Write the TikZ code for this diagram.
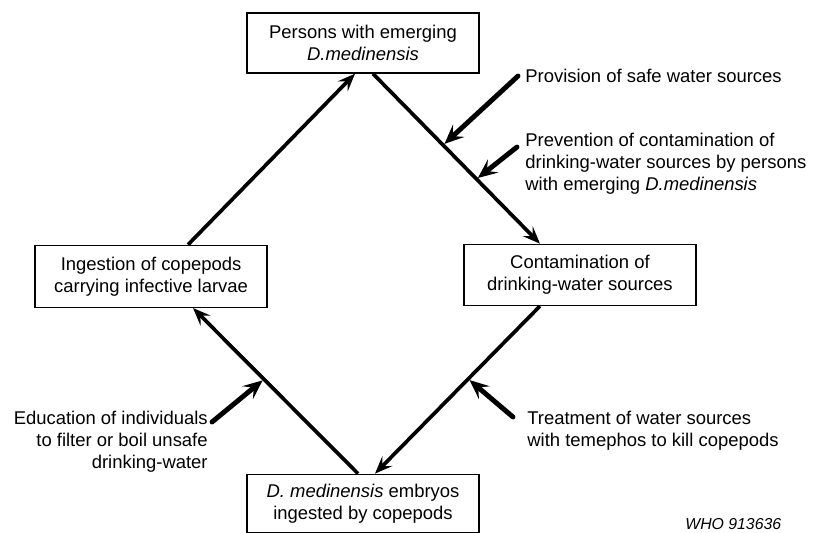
\documentclass[tikz,border=0pt]{standalone}
\usepackage{fontspec}
\setmainfont{Liberation Sans}
\usetikzlibrary{positioning,arrows.meta}

\begin{document}
\begin{tikzpicture}[x=0.02cm,y=-0.02cm,
    box/.style={draw,line width=0.8pt,minimum width=4.64cm,minimum height=1.2cm,
      align=center,inner sep=2pt,font=\fontsize{10.5}{12.5}\selectfont},
    note/.style={inner sep=0pt,font=\fontsize{10.5}{12.4}\selectfont},
    cycle/.style={line width=2.1pt,-{Stealth[length=10pt,width=8pt,inset=4pt]}},
    measure/.style={line width=2.8pt,line cap=round,shorten >=1pt,
      -{Stealth[length=11pt,width=9.5pt,inset=4.5pt]}}
  ]
    \useasboundingbox (0,0) rectangle (814,532);
    \node[box] (persons) at (363,43) {Persons with emerging\\\textit{D.medinensis}};
    \node[box,below=3.42cm of persons,xshift=-4.24cm,minimum height=1.24cm] (ingest) {Ingestion of copepods\\carrying infective larvae};
    \node[box,below=3.4cm of persons,xshift=4.34cm,minimum height=1.22cm] (contam) {Contamination of\\drinking-water sources};
    \node[box,below=8cm of persons,minimum height=1.16cm] (embryos) {\textit{D. medinensis} embryos\\ingested by copepods};
    % the transmission cycle
    \draw[cycle] ([xshift=0.74cm]ingest.north) -- ([xshift=-0.16cm]persons.south);
    \draw[cycle] ([xshift=0.2cm]persons.south) -- coordinate[pos=0.42] (hit1) coordinate[pos=0.62] (hit2) ([xshift=-0.8cm]contam.north);
    \draw[cycle] ([xshift=-0.8cm]contam.south) -- coordinate[pos=0.435] (hit3) ([xshift=0.24cm]embryos.north);
    \draw[cycle] ([xshift=-0.1cm]embryos.north) -- coordinate[pos=0.57] (hit4) ([xshift=0.84cm]ingest.south);
    % control measures
    \node[note,anchor=west] (provision) at (525,76) {Provision of safe water sources};
    \node[note,anchor=west,align=left] (prevention) at (525,163.5) {Prevention of contamination of\\drinking-water sources by persons\\with emerging \textit{D.medinensis}};
    \node[note,anchor=west,align=left] (treatment) at (527,431) {Treatment of water sources\\with temephos to kill copepods};
    \node[note,anchor=east,align=right] (education) at (208,441.5) {Education of individuals\\to filter or boil unsafe\\drinking-water};
    \node[note,anchor=base west,font=\fontsize{9}{11}\selectfont\itshape] (code) at (685,529) {WHO 913636};
    \draw[measure] ([xshift=-0.14cm]provision.west) -- (hit1);
    \draw[measure] ([xshift=-0.16cm,yshift=0.33cm]prevention.west) -- (hit2);
    \draw[measure] ([xshift=-0.28cm,yshift=0.28cm]treatment.west) -- (hit3);
    \draw[measure] ([xshift=0.08cm,yshift=0.39cm]education.east) -- (hit4);
\end{tikzpicture}
\end{document}
